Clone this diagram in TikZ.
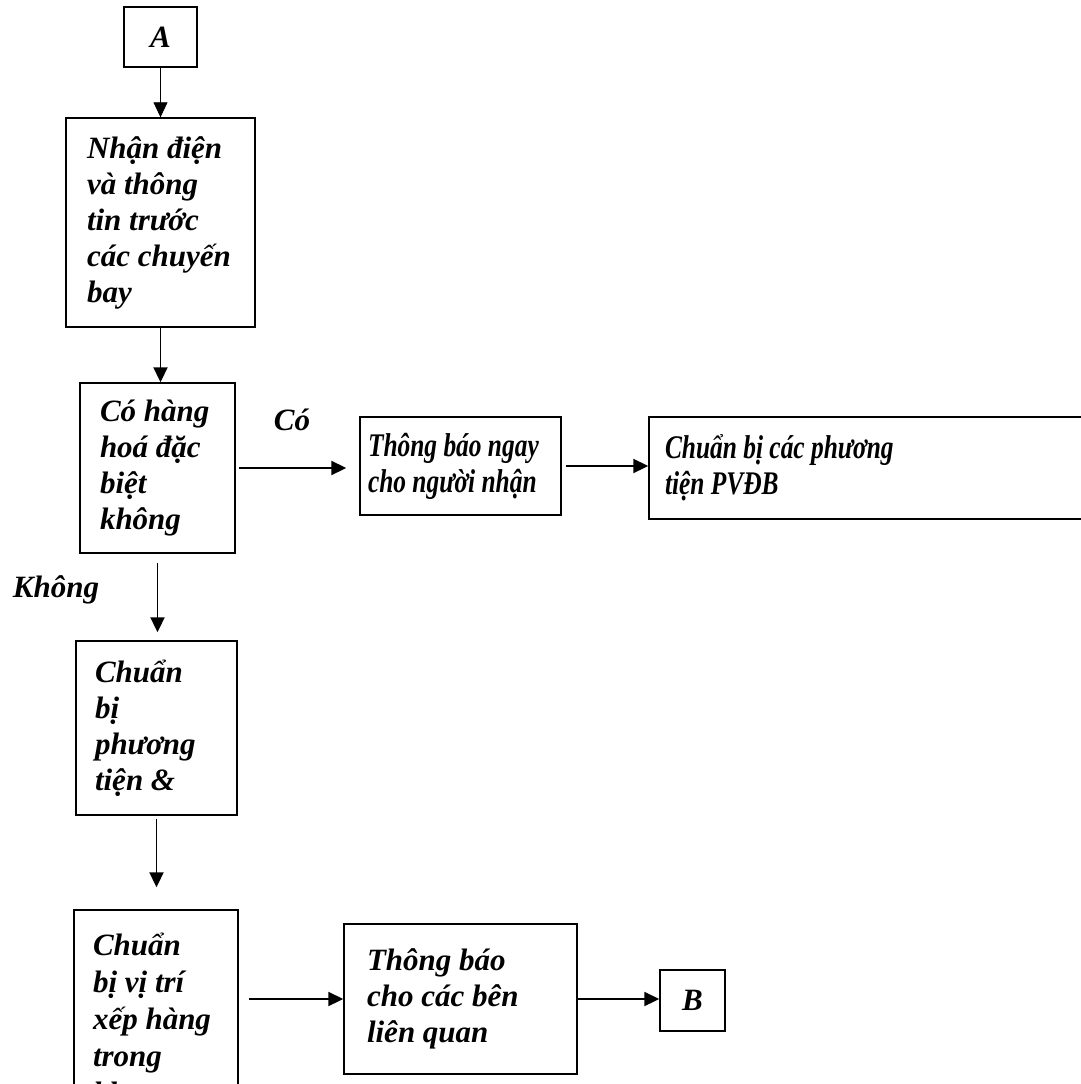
\documentclass[tikz,border=0pt]{standalone}
\usepackage{fontspec}
\setmainfont{Liberation Serif}
\newfontfamily\hepfont{Liberation Serif}[FakeStretch=0.77]
\usetikzlibrary{arrows.meta}

\begin{document}
\begin{tikzpicture}[x=1pt,y=-1pt,>={Triangle[length=15pt,width=14pt]},line width=1.9pt,
b/.style={draw,line width=1.4pt,align=flush left,inner ysep=0pt,inner xsep=#1},
b/.default=20pt,
hep/.style={font=\fontsize{33}{36}\hepfont\bfseries\itshape\selectfont},
nodes={font=\fontsize{31}{36}\bfseries\itshape\selectfont}]
\useasboundingbox (0,0) rectangle (1081,1084);
\path
(160.5,37) node[b=0pt,align=center,minimum width=73pt,minimum height=60pt] (A) {A}
(160.5,222.5) node[b=21pt,text width=147pt,minimum height=209pt] (nhan) {Nhận điện\\và thông\\tin trước\\các chuyến\\bay}
(157.5,468) node[b=20pt,text width=115pt,minimum height=170pt] (hoi) {Có hàng\\hoá đặc\\biệt\\không}
(460.5,466) node[b=8pt,hep,text width=185pt,minimum height=98pt] (bao) {Thông báo ngay\\cho người nhận}
(869.5,468) node[b=16pt,hep,text width=409pt,minimum height=102pt] (pvdb) {Chuẩn bị các phương\\tiện PVĐB}
(156.5,728) node[b=19pt,text width=123pt,minimum height=174pt] (ptien) {Chuẩn\\bị\\phương\\tiện \&}
(156,1018) node[b=19pt,text width=126pt,minimum height=216pt,font=\fontsize{31}{37}\bfseries\itshape\selectfont] (vitri) {Chuẩn\\bị vị trí\\xếp hàng\\trong\\kho}
(460.5,999) node[b=23pt,text width=187pt,minimum height=150pt] (lienquan) {Thông báo\\cho các bên\\liên quan}
(692.5,1000.5) node[b=0pt,align=center,minimum width=65pt,minimum height=61pt] (B) {B}
(292,420) node (co) {Có}
(56,590) node (khong) {Không}
;
\draw[->,line width=0.8pt] (A) -- (nhan.north -| A);
\draw[->] (nhan) -- (hoi.north -| nhan);
\draw[->,shorten <=3pt,shorten >=13pt] (hoi) -- (hoi -| bao.west);
\draw[->,shorten <=4pt] (bao) -- (bao -| pvdb.west);
\draw[->,shorten <=9pt,shorten >=8pt] (hoi) -- (hoi |- ptien.north);
\draw[->,shorten <=3pt,shorten >=22pt] (ptien) -- (ptien |- vitri.north);
\draw[->,shorten <=10pt] (lienquan -| vitri.east) -- (lienquan);
\draw[->] (lienquan) -- (lienquan -| B.west);
\end{tikzpicture}
\end{document}
